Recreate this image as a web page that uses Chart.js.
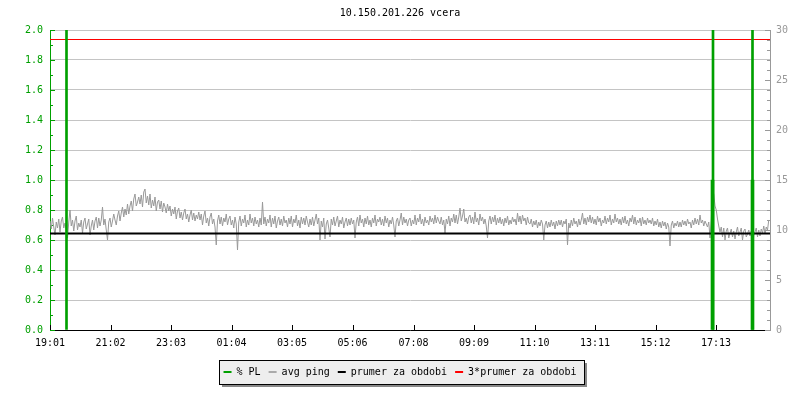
<!DOCTYPE html>
<html>
<head>
<meta charset="utf-8">
<title>10.150.201.226 vcera</title>
<script src="https://cdn.jsdelivr.net/npm/chart.js@4.4.0/dist/chart.umd.min.js"></script>
<style>
  html, body { margin: 0; padding: 0; background: #fff; }
  #wrap { width: 800px; height: 400px; }
</style>
</head>
<body>
<div id="wrap"><canvas id="chart" width="800" height="400"></canvas></div>
<script>
// x axis is minutes since 19:01 (one day = 1440 min)
const xTickValues = [0, 121, 242, 363, 484, 605, 727, 848, 969, 1090, 1211, 1332];
const xTickLabels = ['19:01', '21:02', '23:03', '01:04', '03:05', '05:06',
                     '07:08', '09:09', '11:10', '13:11', '15:12', '17:13'];

// avg ping in ms, one sample every 2.5 minutes, one row per hour
const pingStep = 2.5;
const avgPing = [
  10.9, 10.1, 11.2, 10.3, 9.5, 10.8, 10.2, 11.1, 9.8, 10.9, 11.3, 10.2, 10.7, 9.9, 9.2, 10.8, 12.0, 10.4, 11.0, 9.9, 10.9, 11.4, 10.0, 10.7,
  10.3, 11.0, 9.7, 10.8, 11.2, 10.1, 10.6, 11.1, 9.5, 10.4, 11.0, 10.0, 10.9, 11.3, 10.2, 11.2, 10.4, 11.0, 12.3, 10.5, 11.1, 10.0, 9.0, 10.8,
  11.2, 10.3, 10.9, 11.6, 11.0, 10.5, 11.4, 11.9, 10.9, 11.7, 12.3, 11.3, 12.1, 11.5, 12.6, 11.6, 12.4, 12.9, 11.9, 13.1, 13.6, 12.4, 12.8, 13.3,
  12.6, 13.5, 12.3, 13.8, 14.1, 12.7, 13.4, 12.5, 13.6, 12.2, 13.0, 12.4, 13.3, 11.9, 12.8, 13.0, 12.1, 12.9, 11.8, 12.7, 12.3, 11.7, 12.6, 11.9,
  12.4, 11.4, 12.1, 11.6, 12.3, 11.1, 11.9, 12.2, 11.2, 11.8, 11.0, 11.7, 12.1, 11.1, 11.6, 10.8, 11.5, 12.0, 11.0, 11.7, 10.9, 11.5, 11.1, 11.8,
  11.0, 11.6, 10.5, 11.4, 11.9, 10.7, 11.2, 10.4, 11.3, 11.7, 10.6, 11.1, 10.3, 8.5, 10.9, 11.5, 10.6, 11.3, 10.4, 11.2, 10.8, 11.6, 10.5, 11.1,
  11.4, 10.5, 11.0, 10.2, 11.3, 10.6, 8.0, 10.8, 11.4, 10.4, 11.1, 10.7, 11.5, 10.3, 11.0, 10.5, 11.6, 10.7, 11.2, 10.4, 11.3, 10.6, 11.0, 10.3,
  11.2, 10.5, 12.8, 10.6, 11.3, 10.4, 11.1, 10.7, 11.5, 10.3, 11.2, 10.6, 11.4, 10.2, 10.9, 11.3, 10.5, 11.1, 10.4, 11.4, 10.7, 11.0, 10.3, 11.2,
  10.6, 11.4, 10.3, 11.1, 10.7, 11.5, 10.4, 11.0, 10.2, 11.3, 10.6, 11.2, 10.5, 11.4, 10.8, 10.3, 11.1, 10.5, 11.3, 10.4, 11.0, 11.6, 10.6, 11.2,
  9.0, 10.9, 10.3, 11.2, 9.1, 10.6, 11.0, 10.2, 9.3, 11.1, 10.5, 11.3, 10.4, 10.9, 11.4, 10.3, 11.0, 10.6, 11.3, 10.2, 10.8, 11.2, 10.4, 11.1,
  10.5, 11.2, 10.6, 11.0, 9.2, 10.8, 11.3, 10.4, 11.5, 10.7, 11.1, 10.3, 11.2, 10.6, 11.4, 10.5, 11.0, 10.3, 11.2, 10.7, 11.5, 10.4, 11.1, 10.8,
  11.3, 10.5, 11.1, 10.4, 11.4, 10.7, 11.2, 10.3, 11.0, 10.6, 11.3, 10.5, 9.3, 10.9, 11.2, 10.4, 11.0, 11.7, 10.5, 11.3, 10.7, 11.1, 10.4, 11.0,
  11.2, 10.4, 11.0, 10.6, 11.5, 10.5, 11.2, 10.8, 11.6, 10.6, 11.1, 10.4, 11.3, 10.7, 11.0, 10.5, 11.4, 10.8, 11.2, 10.6, 11.5, 10.7, 11.3, 10.9,
  10.6, 11.3, 10.5, 11.0, 9.7, 11.1, 10.6, 11.4, 10.4, 11.2, 10.8, 11.6, 10.7, 11.5, 10.6, 11.3, 12.2, 10.9, 11.4, 12.1, 10.8, 11.2, 10.6, 11.3,
  11.5, 10.7, 11.3, 10.6, 11.8, 10.8, 11.2, 10.5, 11.6, 10.9, 11.3, 10.6, 11.1, 10.4, 9.2, 10.9, 11.4, 10.6, 11.3, 10.8, 11.5, 10.5, 11.2, 10.7,
  11.3, 10.6, 11.1, 10.4, 11.2, 10.7, 11.4, 10.5, 11.0, 10.6, 11.3, 10.8, 11.1, 10.5, 11.7, 10.8, 11.4, 10.6, 11.5, 10.9, 11.2, 10.5, 11.3, 10.7,
  10.6, 11.1, 10.3, 10.9, 10.5, 11.0, 10.2, 10.8, 10.4, 11.0, 10.6, 9.0, 10.5, 10.9, 10.2, 10.8, 10.3, 11.0, 10.4, 10.8, 10.1, 10.9, 10.4, 11.0,
  10.5, 11.0, 10.3, 10.9, 10.6, 11.1, 8.5, 10.7, 10.2, 11.0, 10.4, 11.2, 10.6, 10.9, 10.3, 11.1, 10.5, 11.0, 11.7, 10.6, 11.2, 10.5, 11.3, 10.8,
  11.5, 10.7, 11.3, 10.6, 11.1, 10.5, 11.4, 10.8, 11.2, 10.4, 11.0, 10.7, 11.4, 10.6, 11.2, 10.8, 11.5, 10.5, 11.1, 10.7, 11.6, 10.8, 11.2, 10.6,
  11.1, 10.5, 11.3, 10.7, 11.4, 10.6, 11.0, 10.4, 11.2, 10.8, 11.5, 10.6, 11.3, 10.5, 11.0, 10.7, 11.2, 10.4, 11.3, 10.6, 11.0, 10.5, 11.2, 10.7,
  11.0, 10.6, 11.2, 10.4, 10.9, 10.5, 11.1, 10.3, 10.8, 10.2, 10.9, 10.4, 10.8, 10.1, 10.7, 10.3, 8.4, 10.5, 10.9, 10.2, 10.7, 10.4, 10.9, 10.3,
  10.8, 10.3, 11.0, 10.5, 10.9, 10.4, 11.1, 10.6, 10.8, 10.2, 11.0, 10.5, 11.2, 10.6, 11.1, 10.5, 11.5, 10.7, 11.0, 10.4, 10.9, 10.6, 10.3, 10.8,
  9.2, 11.0, 14.0, 13.6, 12.4, 12.0, 11.1, 10.4, 9.8, 10.3, 9.3, 10.2, 9.0, 9.9, 10.2, 9.2, 9.7, 10.1, 9.3, 9.9, 9.1, 9.8, 10.3, 9.4,
  9.8, 10.2, 9.0, 9.9, 10.1, 9.3, 9.6, 10.0, 9.4, 9.9, 8.2, 9.5, 9.8, 10.2, 9.3, 10.0, 9.4, 10.1, 9.7, 10.4, 9.6, 10.3, 10.0, 11.0
];

// packet loss in %, left axis (big ones go off the top)
const plSpikeTimes = [33, 1326, 1405];
const plSpikeValues = [100, 100, 100];
const plStepTimes = [1325, 1405];
const plStepValues = [1.0, 1.0];

const meanPing = 9.66;
const tripleMeanPing = 29.05;

const GREEN = '#00a000';
const GRAY = '#999999';
const FONT = { family: '"DejaVu Sans Mono", "Liberation Mono", monospace', size: 10 };

const pingPoints = avgPing.map((v, i) => ({ x: i * pingStep, y: v }));
const spikePoints = plSpikeTimes.map((t, i) => ({ x: t, y: plSpikeValues[i] }));
const stepPoints = plStepTimes.map((t, i) => ({ x: t, y: plStepValues[i] }));

// small tick marks pointing into the plot, majors + minors
function innerTicks(ctx, scale, side, color, subdiv) {
  const a = scale.chart.chartArea;
  const ticks = scale.ticks;
  ctx.strokeStyle = color;
  ctx.lineWidth = 1;
  ctx.beginPath();
  const mark = (v, len) => {
    const p = Math.round(scale.getPixelForValue(v)) + 0.5;
    if (side === 'left') { ctx.moveTo(a.left, p); ctx.lineTo(a.left + len, p); }
    if (side === 'right') { ctx.moveTo(a.right, p); ctx.lineTo(a.right - len, p); }
    if (side === 'bottom') { ctx.moveTo(p, a.bottom); ctx.lineTo(p, a.bottom - len); }
  };
  ticks.forEach((t, i) => {
    mark(t.value, 5);
    if (subdiv && i < ticks.length - 1) {
      const step = (ticks[i + 1].value - t.value) / subdiv;
      for (let k = 1; k < subdiv; k++) mark(t.value + step * k, 3);
    }
  });
  ctx.stroke();
}

const tickPlugin = {
  id: 'tickPlugin',
  beforeDatasetsDraw(chart) {
    const ctx = chart.ctx;
    ctx.save();
    innerTicks(ctx, chart.scales.y, 'left', GREEN, 2);
    innerTicks(ctx, chart.scales.y2, 'right', GRAY, 5);
    innerTicks(ctx, chart.scales.x, 'bottom', '#000', 0);
    ctx.restore();
  }
};

// grey box with shadow behind the legend
const legendFrame = {
  id: 'legendFrame',
  beforeDraw(chart) {
    const boxes = chart.legend && chart.legend.legendHitBoxes;
    if (!boxes || !boxes.length) return;
    const ctx = chart.ctx;
    const left = Math.round(Math.min(...boxes.map(b => b.left))) - 5;
    const right = Math.round(Math.max(...boxes.map(b => b.left + b.width))) + 8;
    const top = Math.round(boxes[0].top) - 7;
    const bottom = Math.round(boxes[0].top + boxes[0].height) + 7;
    ctx.save();
    ctx.fillStyle = '#888';
    ctx.fillRect(left + 3, top + 3, right - left, bottom - top);
    ctx.fillStyle = '#eeeeee';
    ctx.fillRect(left, top, right - left, bottom - top);
    ctx.strokeStyle = '#000';
    ctx.lineWidth = 1;
    ctx.strokeRect(left + 0.5, top + 0.5, right - left, bottom - top);
    ctx.restore();
  }
};

const legendItems = [
  { text: '% PL', color: GREEN, ds: 0 },
  { text: 'avg ping', color: '#aaaaaa', ds: 1 },
  { text: 'prumer za obdobi', color: '#000000', ds: 2 },
  { text: '3*prumer za obdobi', color: '#ff0000', ds: 3 }
];

new Chart(document.getElementById('chart'), {
  type: 'line',
  data: {
    datasets: [
      { label: '% PL', type: 'bar', data: spikePoints, yAxisID: 'y', backgroundColor: GREEN,
        barThickness: 2, grouped: false, clip: 0, order: 0 },
      { label: 'avg ping', data: pingPoints, yAxisID: 'y2', borderColor: GRAY, borderWidth: 1,
        pointRadius: 0, tension: 0, order: 4 },
      { label: 'prumer za obdobi', data: [{ x: 0, y: meanPing }, { x: 1440, y: meanPing }], yAxisID: 'y2',
        borderColor: '#000', borderWidth: 2, pointRadius: 0, order: 3 },
      { label: '3*prumer za obdobi', data: [{ x: 0, y: tripleMeanPing }, { x: 1440, y: tripleMeanPing }], yAxisID: 'y2',
        borderColor: '#ff0000', borderWidth: 1, pointRadius: 0, order: 2 },
      { label: 'pl-step', type: 'bar', data: stepPoints, yAxisID: 'y', backgroundColor: GREEN,
        barThickness: 3, grouped: false, clip: 0, order: 1 }
    ]
  },
  options: {
    responsive: false,
    animation: false,
    devicePixelRatio: 1,
    layout: { padding: { left: 0, right: 0, top: 0, bottom: 13 } },
    plugins: {
      title: {
        display: true,
        text: '10.150.201.226 vcera',
        color: '#000',
        font: { ...FONT, weight: 'normal' },
        padding: { top: 7, bottom: 11 }
      },
      legend: {
        position: 'bottom',
        labels: {
          font: FONT,
          color: '#000',
          usePointStyle: true,
          pointStyleWidth: 8,
          padding: 8,
          generateLabels: () => legendItems.map(it => ({
            text: it.text,
            fillStyle: it.color,
            strokeStyle: it.color,
            lineWidth: 2,
            pointStyle: 'line',
            hidden: false,
            datasetIndex: it.ds
          }))
        },
        onClick: () => {}
      },
      tooltip: { enabled: false }
    },
    scales: {
      x: {
        type: 'linear',
        min: 0,
        max: 1440,
        offset: false,
        grid: { display: false, drawTicks: false },
        border: { color: '#000' },
        afterBuildTicks: s => { s.ticks = xTickValues.map(v => ({ value: v })); },
        afterFit: s => { s.height = 29; },
        ticks: {
          autoSkip: false,
          maxRotation: 0,
          padding: 7,
          color: '#000',
          font: FONT,
          callback: (v, i) => xTickLabels[i]
        }
      },
      y: {
        position: 'left',
        min: 0,
        max: 2,
        grid: { color: '#c4c4c4', drawTicks: false },
        border: { color: GREEN },
        afterFit: s => { s.width = 50; },
        ticks: {
          stepSize: 0.2,
          padding: 7,
          color: GREEN,
          font: FONT,
          callback: v => v.toFixed(1)
        }
      },
      y2: {
        position: 'right',
        min: 0,
        max: 30,
        grid: { display: false, drawTicks: false },
        border: { color: GRAY },
        afterFit: s => { s.width = 30; },
        ticks: {
          stepSize: 5,
          padding: 6,
          color: GRAY,
          font: FONT
        }
      }
    }
  },
  plugins: [legendFrame, tickPlugin]
});
</script>
</body>
</html>
